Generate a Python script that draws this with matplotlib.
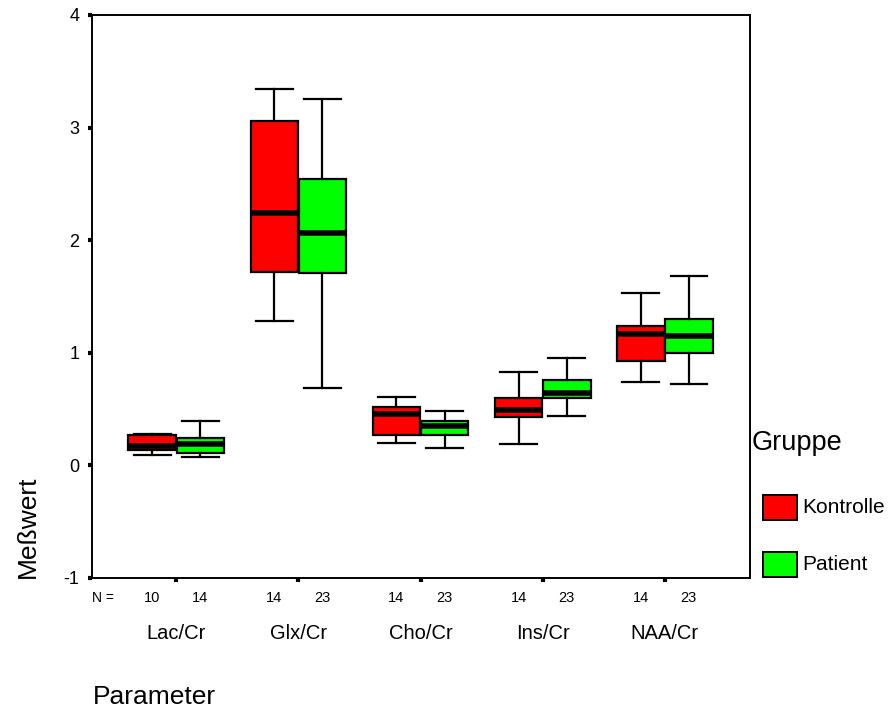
import matplotlib
matplotlib.use("Agg")
import matplotlib.pyplot as plt
from matplotlib.patches import Rectangle

plt.rcParams['font.family'] = ['Liberation Sans', 'DejaVu Sans']
plt.rcParams['axes.unicode_minus'] = False

params = ['Lac/Cr', 'Glx/Cr', 'Cho/Cr', 'Ins/Cr', 'NAA/Cr']
groups = ['Kontrolle', 'Patient']
colors = ['#ff0000', '#00ff00']

# per group: whisker low, q1, median, q3, whisker high
kontrolle_lo = [0.09, 1.28, 0.20, 0.19, 0.74]
kontrolle_q1 = [0.14, 1.72, 0.27, 0.43, 0.93]
kontrolle_med = [0.17, 2.24, 0.46, 0.49, 1.17]
kontrolle_q3 = [0.27, 3.06, 0.52, 0.60, 1.24]
kontrolle_hi = [0.275, 3.34, 0.61, 0.83, 1.53]
kontrolle_n = [10, 14, 14, 14, 14]

patient_lo = [0.07, 0.69, 0.15, 0.44, 0.72]
patient_q1 = [0.11, 1.71, 0.27, 0.60, 1.00]
patient_med = [0.19, 2.06, 0.35, 0.64, 1.15]
patient_q3 = [0.24, 2.54, 0.39, 0.76, 1.30]
patient_hi = [0.39, 3.25, 0.48, 0.95, 1.68]
patient_n = [14, 23, 23, 23, 23]

data = [
    (kontrolle_lo, kontrolle_q1, kontrolle_med, kontrolle_q3, kontrolle_hi, kontrolle_n),
    (patient_lo, patient_q1, patient_med, patient_q3, patient_hi, patient_n),
]

fig = plt.figure(figsize=(8.9, 7.09), dpi=100)
ax = fig.add_axes([0.1034, 0.1848, 0.7396, 0.7942])

pos = list(range(1, len(params) + 1))
off = 0.197
for g, (lo, q1, med, q3, hi, n) in enumerate(data):
    stats = []
    for i in range(len(params)):
        stats.append({'whislo': lo[i], 'q1': q1[i], 'med': med[i],
                      'q3': q3[i], 'whishi': hi[i], 'fliers': []})
    p = [x + (2 * g - 1) * off for x in pos]
    ax.bxp(stats, positions=p, widths=0.39, patch_artist=True, showfliers=False,
           boxprops=dict(facecolor=colors[g], edgecolor='black', linewidth=1.6),
           medianprops=dict(color='black', linewidth=4),
           whiskerprops=dict(color='black', linewidth=1.6),
           capprops=dict(color='black', linewidth=1.6),
           capwidths=0.3, manage_ticks=False)
    for i in range(len(params)):
        ax.text(p[i], -1.175, str(n[i]), ha='center', va='center',
                fontsize=10.5, clip_on=False)

ax.set_xlim(0.31, 5.70)
ax.set_ylim(-1, 4)
ax.set_yticks([-1, 0, 1, 2, 3, 4])
ax.set_xticks(pos)
ax.set_xticklabels([])
ax.tick_params(axis='both', length=3, width=3, labelsize=13, direction='out')
ax.tick_params(axis='y', pad=6)
for s in ax.spines.values():
    s.set_linewidth(1.4)

ax.text(0.31, -1.175, 'N =', ha='left', va='center', fontsize=10, clip_on=False)
for i, name in enumerate(params):
    ax.text(pos[i], -1.49, name, ha='center', va='center', fontsize=14.5, clip_on=False)

fig.text(0.104, 1 - 697 / 709, 'Parameter', ha='left', va='center', fontsize=19)
fig.text(0.031, 1 - 527 / 709, 'Meßwert', ha='center', va='center', rotation=90, fontsize=19)

# legend
fig.text(0.845, 0.375, 'Gruppe', ha='left', va='center', fontsize=19.5)
for g, name in enumerate(groups):
    yc = 0.284 - g * 0.08
    fig.patches.append(Rectangle((0.857, yc - 0.018), 0.038, 0.036,
                                 transform=fig.transFigure, facecolor=colors[g],
                                 edgecolor='black', linewidth=1.4))
    fig.text(0.901, yc, name, ha='left', va='center', fontsize=15)

fig.savefig('out.png', dpi=100)
